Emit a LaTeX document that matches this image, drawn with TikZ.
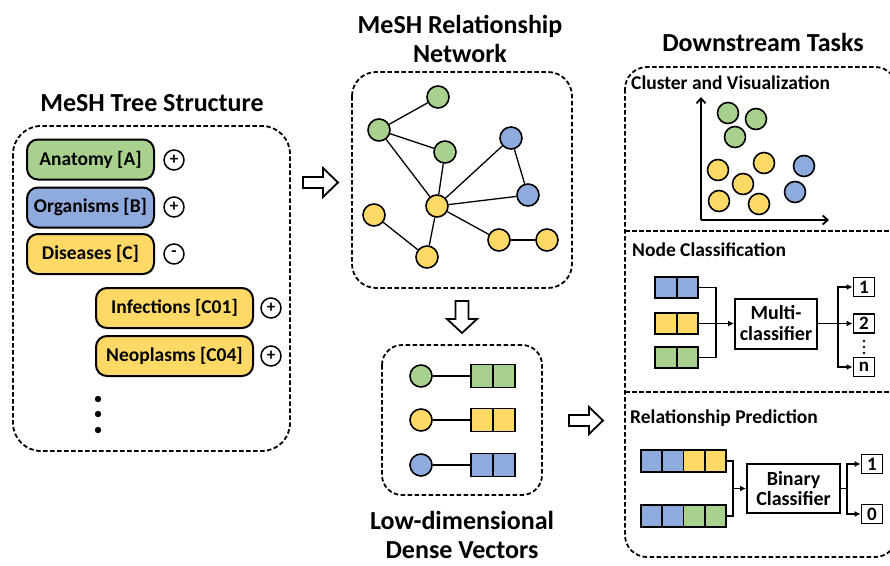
\documentclass[tikz,border=0pt]{standalone}
\usepackage{fontspec}
\setmainfont{Carlito}
\usetikzlibrary{arrows.meta}
\definecolor{cgreen}{HTML}{A9D18E}
\definecolor{cblue}{HTML}{8FAADC}
\definecolor{cyellow}{HTML}{FFD966}
\tikzset{
  dbox/.style={draw, line width=1.8pt, dash pattern=on 4.5pt off 2.5pt},
  title/.style={font=\bfseries\fontsize{26}{29}\selectfont, align=center, inner sep=0},
  sublabel/.style={font=\bfseries\fontsize{19.5}{22}\selectfont, anchor=west, inner sep=0},
  cat/.style={draw, line width=2pt, rounded corners=11pt, minimum height=40pt,
    font=\bfseries\fontsize{19.5}{22}\selectfont, inner sep=0},
  pm/.style={circle, draw, line width=1.5pt, minimum size=20pt, inner sep=0,
    font=\bfseries\fontsize{17}{17}\selectfont},
  vx/.style={circle, draw, line width=1.6pt, minimum size=22pt, inner sep=0},
  pt/.style={circle, draw, line width=1.6pt, minimum size=21pt, inner sep=0},
  cell/.style={draw, line width=1.8pt, minimum width=21.5pt, minimum height=21.5pt, inner sep=0, outer sep=0},
  cls/.style={draw, line width=2pt, inner sep=0, font=\bfseries\fontsize{20}{23}\selectfont, align=center},
  outbox/.style={draw, line width=1.8pt, minimum width=21pt, minimum height=19pt, inner sep=0,
    font=\bfseries\fontsize{19}{19}\selectfont},
  edge/.style={line width=1.3pt},
  link/.style={line width=1.6pt},
  tip/.style={line width=1.6pt, -{Latex[length=6pt,width=6pt]}},
  blockarrow/.style={draw, line width=1.8pt, fill=white, line join=miter},
}
\begin{document}
\begin{tikzpicture}[x=1pt, y=-1pt]
\useasboundingbox (0,0) rectangle (890,565);
\clip (0,0) rectangle (890,565);

% ---------- MeSH tree structure ----------
\node[title] (t1) at (152,103) {MeSH Tree Structure};
\draw[dbox, rounded corners=28pt] (13,126) rectangle (290,451);
\node[cat, fill=cgreen,  minimum width=127pt] (anat) at (90.5,159.5) {Anatomy [A]};
\node[cat, fill=cblue,   minimum width=127pt] (orga) at (90.5,207.5) {Organisms [B]};
\node[cat, fill=cyellow, minimum width=127pt] (dise) at (90.5,254)   {Diseases [C]};
\node[cat, fill=cyellow, minimum width=157pt] (infe) at (174.5,308)  {Infections [C01]};
\node[cat, fill=cyellow, minimum width=157pt] (neop) at (174.5,356)  {Neoplasms [C04]};
\node[pm] (pa) at (174,160) {+};
\node[pm] (pb) at (174,207) {+};
\node[pm] (pc) at (174,254) {-};
\node[pm] (pi) at (271,308) {+};
\node[pm] (pn) at (271,356) {+};
\foreach \yy in {399,414,430} \fill (98,\yy) circle (3.2pt);

% ---------- block arrows between stages ----------
\draw[blockarrow] (303,177) -- (323,177) -- (323,168) -- (338,182.5) -- (323,197) -- (323,188) -- (303,188) -- cycle;
\draw[blockarrow] (455.5,301) -- (468.5,301) -- (468.5,319) -- (477,319) -- (462,333) -- (447,319) -- (455.5,319) -- cycle;
\draw[blockarrow] (569,415) -- (589,415) -- (589,407) -- (603,420.5) -- (589,434) -- (589,426) -- (569,426) -- cycle;

% ---------- MeSH relationship network ----------
\node[title] (t2) at (460,39) {MeSH Relationship\\Network};
\draw[dbox, rounded corners=24pt] (352,72) rectangle (572,288);
\node[vx, fill=cgreen]  (g1) at (438,97)  {};
\node[vx, fill=cgreen]  (g2) at (379,130) {};
\node[vx, fill=cgreen]  (g3) at (445,152) {};
\node[vx, fill=cblue]   (b1) at (511,138) {};
\node[vx, fill=cblue]   (b2) at (528,195) {};
\node[vx, fill=cyellow] (yc) at (437,206) {};
\node[vx, fill=cyellow] (yl) at (374,215) {};
\node[vx, fill=cyellow] (yb) at (427,257) {};
\node[vx, fill=cyellow] (y1) at (499,240) {};
\node[vx, fill=cyellow] (y2) at (547,240) {};
\draw[edge] (g1) -- (g2);
\draw[edge] (g2) -- (g3);
\draw[edge] (g2) -- (yc);
\draw[edge] (g3) -- (yc);
\draw[edge] (b1) -- (yc);
\draw[edge] (b1) -- (b2);
\draw[edge] (b2) -- (yc);
\draw[edge] (yl) -- (yb);
\draw[edge] (yb) -- (yc);
\draw[edge] (yc) -- (y1);
\draw[edge] (y1) -- (y2);

% ---------- low-dimensional dense vectors ----------
\draw[dbox, rounded corners=20pt] (382,345) rectangle (542,495);
\node[title] (t3) at (462,535) {Low-dimensional\\Dense Vectors};
\foreach \nm/\col/\yy in {eg/cgreen/376, ey/cyellow/420, eb/cblue/465}{
  \node[vx, fill=\col] (\nm c) at (421,\yy) {};
  \node[cell, fill=\col, minimum width=22pt, minimum height=23pt] (\nm a) at (482,\yy) {};
  \node[cell, fill=\col, minimum width=22pt, minimum height=23pt] (\nm b) at (504,\yy) {};
  \draw[edge] (\nm c) -- (\nm a);
}

% ---------- downstream tasks ----------
\node[title] (t4) at (763,42) {Downstream Tasks};
\draw[dbox, rounded corners=22pt] (625,67) rectangle (897,557);
\draw[dbox] (625,231) -- (890,231);
\draw[dbox] (625,392) -- (890,392);

% cluster and visualization
\node[sublabel] (s1) at (631,83) {Cluster and Visualization};
\coordinate (ax0) at (701,220);
\coordinate (axy) at (701,97);
\coordinate (axx) at (829,220);
\draw[line width=1.8pt, -{Straight Barb[length=5pt,width=9pt]}] (ax0) -- (axy);
\draw[line width=1.8pt, -{Straight Barb[length=5pt,width=9pt]}] (ax0) -- (axx);
\foreach \xx/\yy in {728/113, 756/119, 735/137} \node[pt, fill=cgreen] at (\xx,\yy) {};
\foreach \xx/\yy in {718/170, 764/163, 743/184, 719/201, 759/204} \node[pt, fill=cyellow] at (\xx,\yy) {};
\foreach \xx/\yy in {804/166, 795/192} \node[pt, fill=cblue] at (\xx,\yy) {};

% node classification
\node[sublabel] (s2) at (632,250) {Node Classification};
\foreach \nm/\col/\yy in {nb/cblue/287.5, ny/cyellow/323.5, ng/cgreen/357.5}{
  \node[cell, fill=\col] (\nm a) at (666,\yy) {};
  \node[cell, fill=\col] (\nm b) at (687.5,\yy) {};
}
\node[cls, minimum width=82pt, minimum height=50pt] (mc) at (776,323.5) {Multi-\\[-2pt]classifier};
\coordinate (nj) at (716,323.5);
\draw[link] (nbb.east) -| (nj);
\draw[link] (ngb.east) -| (nj);
\draw[tip] (nyb.east) -- (mc.west);
\node[outbox] (o1) at (864,287) {1};
\node[outbox] (o2) at (864,323.5) {2};
\node[outbox] (on) at (864,367) {n};
\coordinate (oj) at (838,323.5);
\draw[link] (mc.east) -- (oj);
\draw[tip] (oj) |- (o1.west);
\draw[tip] (oj) -- (o2.west);
\draw[tip] (oj) |- (on.west);
\foreach \yy in {341,347,353} \fill (864,\yy) circle (1.3pt);

% relationship prediction
\node[sublabel] (s3) at (630,418) {Relationship Prediction};
\foreach \nm/\ca/\cb/\yy in {ra/cblue/cyellow/461, rb/cblue/cgreen/516}{
  \node[cell, fill=\ca, minimum width=21.25pt, minimum height=22pt] (\nm 1) at (651.6,\yy) {};
  \node[cell, fill=\ca, minimum width=21.25pt, minimum height=22pt] (\nm 2) at (672.9,\yy) {};
  \node[cell, fill=\cb, minimum width=21.25pt, minimum height=22pt] (\nm 3) at (694.1,\yy) {};
  \node[cell, fill=\cb, minimum width=21.25pt, minimum height=22pt] (\nm 4) at (715.4,\yy) {};
}
\node[cls, minimum width=93pt, minimum height=49pt] (bc) at (793.5,488.5) {Binary\\[-3pt]Classifier};
\coordinate (rj) at (733,488.5);
\draw[link] (ra4.east) -| (rj);
\draw[link] (rb4.east) -| (rj);
\draw[tip] (rj) -- (bc.west);
\node[outbox] (q1) at (872,464) {1};
\node[outbox] (q0) at (872,514) {0};
\coordinate (bj) at (847,488.5);
\draw[link] (bc.east) -- (bj);
\draw[tip] (bj) |- (q1.west);
\draw[tip] (bj) |- (q0.west);
\end{tikzpicture}
\end{document}
